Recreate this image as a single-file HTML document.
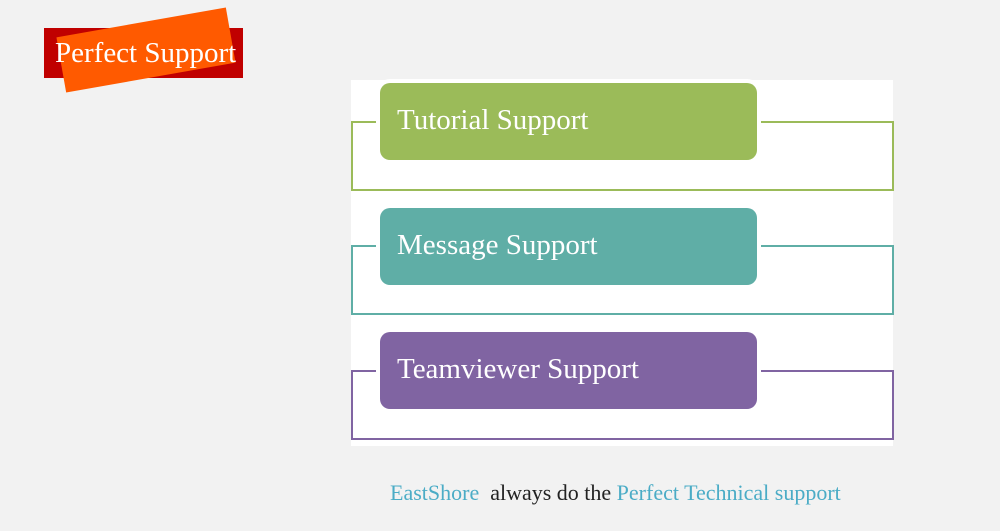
<!DOCTYPE html>
<html><head><meta charset="utf-8"><style>
body{margin:0;width:1000px;height:531px;background:#f2f2f2;position:relative;overflow:hidden;font-family:"Liberation Serif",serif}
.a{position:absolute}
.frame{position:absolute;left:351px;width:539px;height:66px;border:2px solid}
.box{position:absolute;left:380px;width:377px;height:77px;border-radius:10px;color:#fff;font-size:29px;box-sizing:border-box;padding-left:17px;line-height:74px;box-shadow:0 0 0 4px #fff}
</style></head><body>
<div class="a" style="left:44px;top:28px;width:199px;height:50px;background:#c00000"></div>
<div class="a" style="left:60px;top:22px;width:172px;height:56px;background:#ff5a00;transform:rotate(-10deg)"></div>
<div class="a" style="left:55px;top:35px;color:#fff;font-size:29px;line-height:36px;white-space:nowrap">Perfect Support</div>
<div class="a" style="left:351px;top:80px;width:542px;height:366px;background:#fff"></div>
<div class="frame" style="top:121px;border-color:#9bbb59"></div>
<div class="frame" style="top:245px;border-color:#5faea6"></div>
<div class="frame" style="top:370px;border-color:#8064a2"></div>
<div class="box" style="top:83px;background:#9bbb59">Tutorial Support</div>
<div class="box" style="top:208px;background:#5faea6">Message Support</div>
<div class="box" style="top:332px;background:#8064a2">Teamviewer Support</div>
<div class="a" style="left:390px;top:480px;font-size:22px;color:#222;white-space:nowrap"><span style="color:#4bacc6">EastShore</span>&nbsp; always do the <span style="color:#4bacc6">Perfect Technical support</span></div>
</body></html>
